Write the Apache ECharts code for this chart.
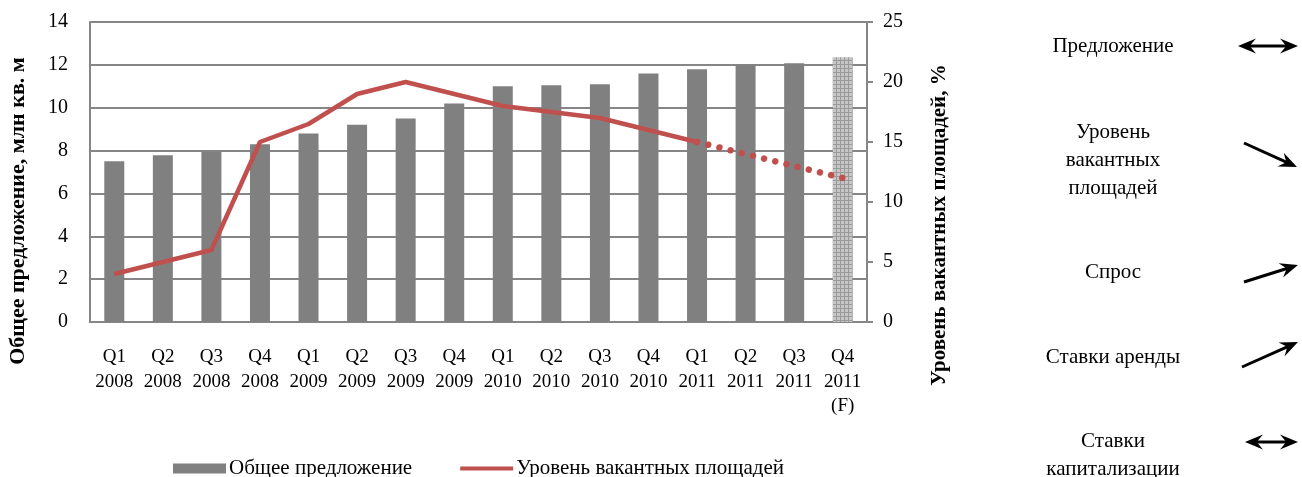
<!DOCTYPE html>
<html><head><meta charset="utf-8">
<script src="https://cdn.jsdelivr.net/npm/echarts@6/dist/echarts.min.js"></script>
<style>html,body{margin:0;padding:0;background:#fff}#c{width:1302px;height:477px}</style>
</head><body><div id="c"></div>
<script>
var categories = ['Q1\n2008','Q2\n2008','Q3\n2008','Q4\n2008','Q1\n2009','Q2\n2009','Q3\n2009','Q4\n2009','Q1\n2010','Q2\n2010','Q3\n2010','Q4\n2010','Q1\n2011','Q2\n2011','Q3\n2011','Q4\n2011\n(F)'];
var supply = [7.5, 7.78, 7.95, 8.3, 8.8, 9.2, 9.5, 10.2, 11.0, 11.05, 11.1, 11.6, 11.8, 12.02, 12.07, 12.35];
var vacancy = [4.0, 5.0, 6.0, 15.0, 16.5, 19.0, 20.0, 19.0, 18.0, 17.5, 17.0, 16.0, 15.0, null, null, null];
var vacancyForecast = [null, null, null, null, null, null, null, null, null, null, null, null, 15.0, 14.0, 13.0, 12.0];
var leftTicks = [0, 14, 2];
var rightTicks = [0, 25, 5];
var sideLabels = ['Предложение', 'Уровень\nвакантных\nплощадей', 'Спрос', 'Ставки аренды', 'Ставки\nкапитализации'];

var FONT = '"Liberation Serif","Times New Roman",serif';
var pc = document.createElement('canvas'); pc.width = 4; pc.height = 4;
var px = pc.getContext('2d');
px.fillStyle = '#c6c6c6'; px.fillRect(0,0,4,4);
px.fillStyle = '#9a9a9a'; px.fillRect(0,0,4,1); px.fillRect(0,0,1,4);

var barData = supply.map(function(v, i){
  if (i === supply.length - 1) return {value: v, itemStyle: {color: {image: pc, repeat: 'repeat'}}};
  return v;
});

function arrowHead(x1,y1,x2,y2,len,w){
  var a = Math.atan2(y2-y1, x2-x1);
  var c = Math.cos(a), s = Math.sin(a);
  var bx = x2 - len*c, by = y2 - len*s;
  var nx = x2 - len*0.65*c, ny = y2 - len*0.65*s;
  return [[x2,y2],[bx - w*s, by + w*c],[nx,ny],[bx + w*s, by - w*c]];
}
function arrowGraphics(x1,y1,x2,y2,dbl){
  var g = [];
  var a = Math.atan2(y2-y1, x2-x1);
  var c = Math.cos(a), s = Math.sin(a);
  var sx = dbl ? x1 + 10*c : x1, sy = dbl ? y1 + 10*s : y1;
  g.push({type:'line', shape:{x1:sx,y1:sy,x2:x2-10*c,y2:y2-10*s}, style:{stroke:'#000', lineWidth:3}});
  g.push({type:'polygon', shape:{points: arrowHead(x1,y1,x2,y2,18,7.5)}, style:{fill:'#000'}});
  if (dbl) g.push({type:'polygon', shape:{points: arrowHead(x2,y2,x1,y1,18,7.5)}, style:{fill:'#000'}});
  return g;
}

var graphics = [
  {type:'text', x: 18, y: 211, rotation: Math.PI/2, style:{text:'Общее предложение, млн кв. м', font:'bold 22px ' + FONT, fill:'#000', textAlign:'center', textVerticalAlign:'middle'}},
  {type:'text', x: 940, y: 225, rotation: Math.PI/2, style:{text:'Уровень вакантных площадей, %', font:'bold 21px ' + FONT, fill:'#000', textAlign:'center', textVerticalAlign:'middle'}}
];
var sideY = [46, 160, 272, 357, 455];
sideLabels.forEach(function(t, i){
  graphics.push({type:'text', x: 1113, y: sideY[i], style:{text:t, font:'21px ' + FONT, fill:'#000', textAlign:'center', textVerticalAlign:'middle', lineHeight: 28}});
});
graphics = graphics.concat(arrowGraphics(1238,46,1298,46,true));
graphics = graphics.concat(arrowGraphics(1244,143,1297,167,false));
graphics = graphics.concat(arrowGraphics(1244,282,1298,265,false));
graphics = graphics.concat(arrowGraphics(1242,367,1298,342,false));
graphics = graphics.concat(arrowGraphics(1245,442,1298,442,true));

var chart = echarts.init(document.getElementById('c'));
chart.setOption({
  animation: false,
  textStyle: {fontFamily: FONT},
  grid: {left: 90, right: 435, top: 22, bottom: 155},
  legend: {
    top: 453, left: 168, itemGap: 46, itemWidth: 53, itemHeight: 10,
    textStyle: {fontFamily: FONT, fontSize: 21, color: '#000', padding: [0,0,0,-2]},
    data: [{name: 'Общее предложение', icon: 'rect'},
           {name: 'Уровень вакантных площадей', itemStyle: {opacity: 0}, lineStyle: {width: 4, color: '#C0504D'}}]
  },
  xAxis: {
    type: 'category', data: categories,
    axisLine: {lineStyle: {color: '#868686', width: 2}},
    axisTick: {show: false},
    axisLabel: {color: '#000', fontSize: 19, fontFamily: FONT, lineHeight: 24.5, margin: 23, interval: 0}
  },
  yAxis: [
    {type: 'value', min: leftTicks[0], max: leftTicks[1], interval: leftTicks[2],
     axisLine: {show: true, lineStyle: {color: '#868686', width: 2}},
     axisTick: {show: false},
     splitLine: {lineStyle: {color: '#868686', width: 2}},
     axisLabel: {color: '#000', fontSize: 20, fontFamily: FONT, margin: 22}},
    {type: 'value', min: rightTicks[0], max: rightTicks[1], interval: rightTicks[2],
     axisLine: {show: true, lineStyle: {color: '#868686', width: 2}},
     axisTick: {show: true, inside: false, length: 6, lineStyle: {color: '#868686', width: 2}},
     splitLine: {show: false},
     axisLabel: {color: '#000', fontSize: 20, fontFamily: FONT, margin: 16}}
  ],
  series: [
    {name: 'Общее предложение', type: 'bar', data: barData, barWidth: 20, itemStyle: {color: '#808080'}, z: 2},
    {name: 'Уровень вакантных площадей', type: 'line', yAxisIndex: 1, data: vacancy, symbol: 'none',
     lineStyle: {color: '#C0504D', width: 4.5}, itemStyle: {color: '#C0504D'}, z: 4},
    {name: 'Прогноз', type: 'line', yAxisIndex: 1, data: vacancyForecast, symbol: 'none',
     lineStyle: {color: '#C0504D', width: 6.5, type: [0.01, 11.5], cap: 'round'}, z: 3}
  ],
  graphic: graphics
});
</script></body></html>
